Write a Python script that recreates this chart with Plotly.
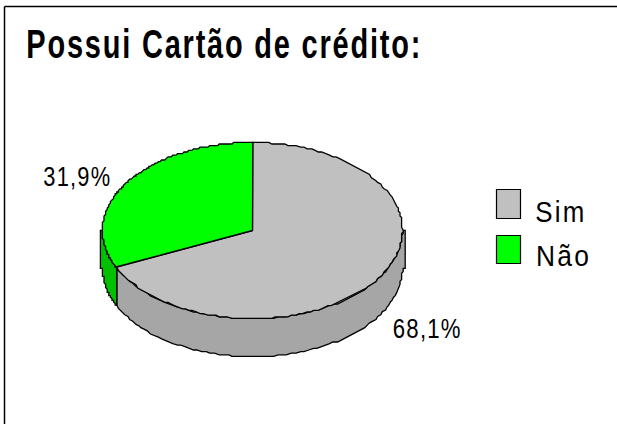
import numpy as np
import plotly.graph_objects as go

title = "Possui Cartão de crédito:"
categories = ["Sim", "Não"]
values = [68.1, 31.9]
labels = ["68,1%", "31,9%"]
top_colors = ["#C0C0C0", "#00FF00"]
side_colors = ["#A6A6A6", "#00C000"]

W, H = 617, 424
cx, cy, rx, ry, depth = 252.5, 230.5, 150.0, 88.0, 38.0
step = 2.0
grid = 1.6

def pt(deg, dy=0.0):
    t = np.radians(deg)
    x = cx + rx * np.sin(t)
    y = cy - ry * np.cos(t)
    x = np.round(x / grid) * grid
    y = np.round(y / grid) * grid
    return x, y + dy

fig = go.Figure()
line = dict(color="#000000", width=1.3)
cum = np.cumsum([0] + values) / sum(values) * 360.0

for i in range(len(values)):
    a0, a1 = cum[i], cum[i + 1]
    lo, hi = max(a0, 90.0), min(a1, 270.0)
    if i == 1:
        lo, hi = a0, 270.0
    th = np.linspace(lo, hi, 90)
    tx, ty = pt(th)
    bx, by = pt(th[::-1], depth)
    xs, ys = list(tx), list(ty)
    if hi == 270.0:
        xs += [tx[-1] - step, tx[-1] - step]
        ys += [ty[-1], ty[-1] + depth]
    xs += list(bx)
    ys += list(by)
    if lo == 90.0:
        xs += [tx[0] + step, tx[0] + step]
        ys += [ty[0] + depth, ty[0]]
    xs.append(xs[0]); ys.append(ys[0])
    fig.add_trace(go.Scatter(x=xs, y=ys, mode="lines", fill="toself", fillcolor=side_colors[i],
                             line=line, hoverinfo="skip", showlegend=False))

for i in range(len(values)):
    th = np.linspace(cum[i], cum[i + 1], 160)
    tx, ty = pt(th)
    xs = [cx] + list(tx) + [cx]
    ys = [cy] + list(ty) + [cy]
    fig.add_trace(go.Scatter(x=xs, y=ys, mode="lines", fill="toself", fillcolor=top_colors[i],
                             line=line, hoverinfo="skip", showlegend=False))

font = "Liberation Sans, Arial, sans-serif"
ann = [
    dict(x=224, y=44, text="<b>%s</b>" % title, font=dict(size=40, family=font)),
    dict(x=77, y=177, text=labels[1], font=dict(size=27, family=font)),
    dict(x=427, y=328.5, text=labels[0], font=dict(size=27, family=font)),
    dict(x=560.5, y=211, text=categories[0], font=dict(size=30, family=font)),
    dict(x=563, y=255, text=categories[1], font=dict(size=30, family=font)),
]
for a in ann:
    a.update(xref="x", yref="y", xanchor="center", yanchor="middle", showarrow=False)
    a["font"]["color"] = "#000000"

shapes = [
    dict(type="line", x0=4.5, x1=4.5, y0=6.5, y1=H, line=dict(color="#000000", width=1.5)),
    dict(type="line", x0=4.5, x1=W, y0=6.5, y1=6.5, line=dict(color="#000000", width=1.5)),
    dict(type="rect", x0=496.5, x1=520.5, y0=189.5, y1=218.5, fillcolor=top_colors[0], line=dict(color="#000000", width=1.2)),
    dict(type="rect", x0=496.5, x1=520.5, y0=235.5, y1=263.5, fillcolor=top_colors[1], line=dict(color="#000000", width=1.2)),
]
for s in shapes:
    s.update(xref="x", yref="y")

fig.update_layout(
    width=W, height=H, margin=dict(l=0, r=0, t=0, b=0),
    paper_bgcolor="#FFFFFF", plot_bgcolor="#FFFFFF", showlegend=False,
    xaxis=dict(range=[0, W], visible=False, fixedrange=True),
    yaxis=dict(range=[H, 0], visible=False, fixedrange=True),
    annotations=ann, shapes=shapes,
)
post = """
document.body.style.margin='0';
document.documentElement.style.overflow='hidden';
var lens=[396,68,69,51,55];
var sp=[2.5,1.5,1.5,2.5,2.5];
document.querySelectorAll('.annotation-text').forEach(function(t,i){
  t.style.letterSpacing=sp[i]+'px';
  t.setAttribute('textLength',lens[i]);
  t.setAttribute('lengthAdjust','spacingAndGlyphs');
  t.querySelectorAll('tspan').forEach(function(s){
    s.setAttribute('textLength',lens[i]);
    s.setAttribute('lengthAdjust','spacingAndGlyphs');
  });
});
"""
fig.write_html("out.html", config={"displayModeBar": False}, post_script=post)
